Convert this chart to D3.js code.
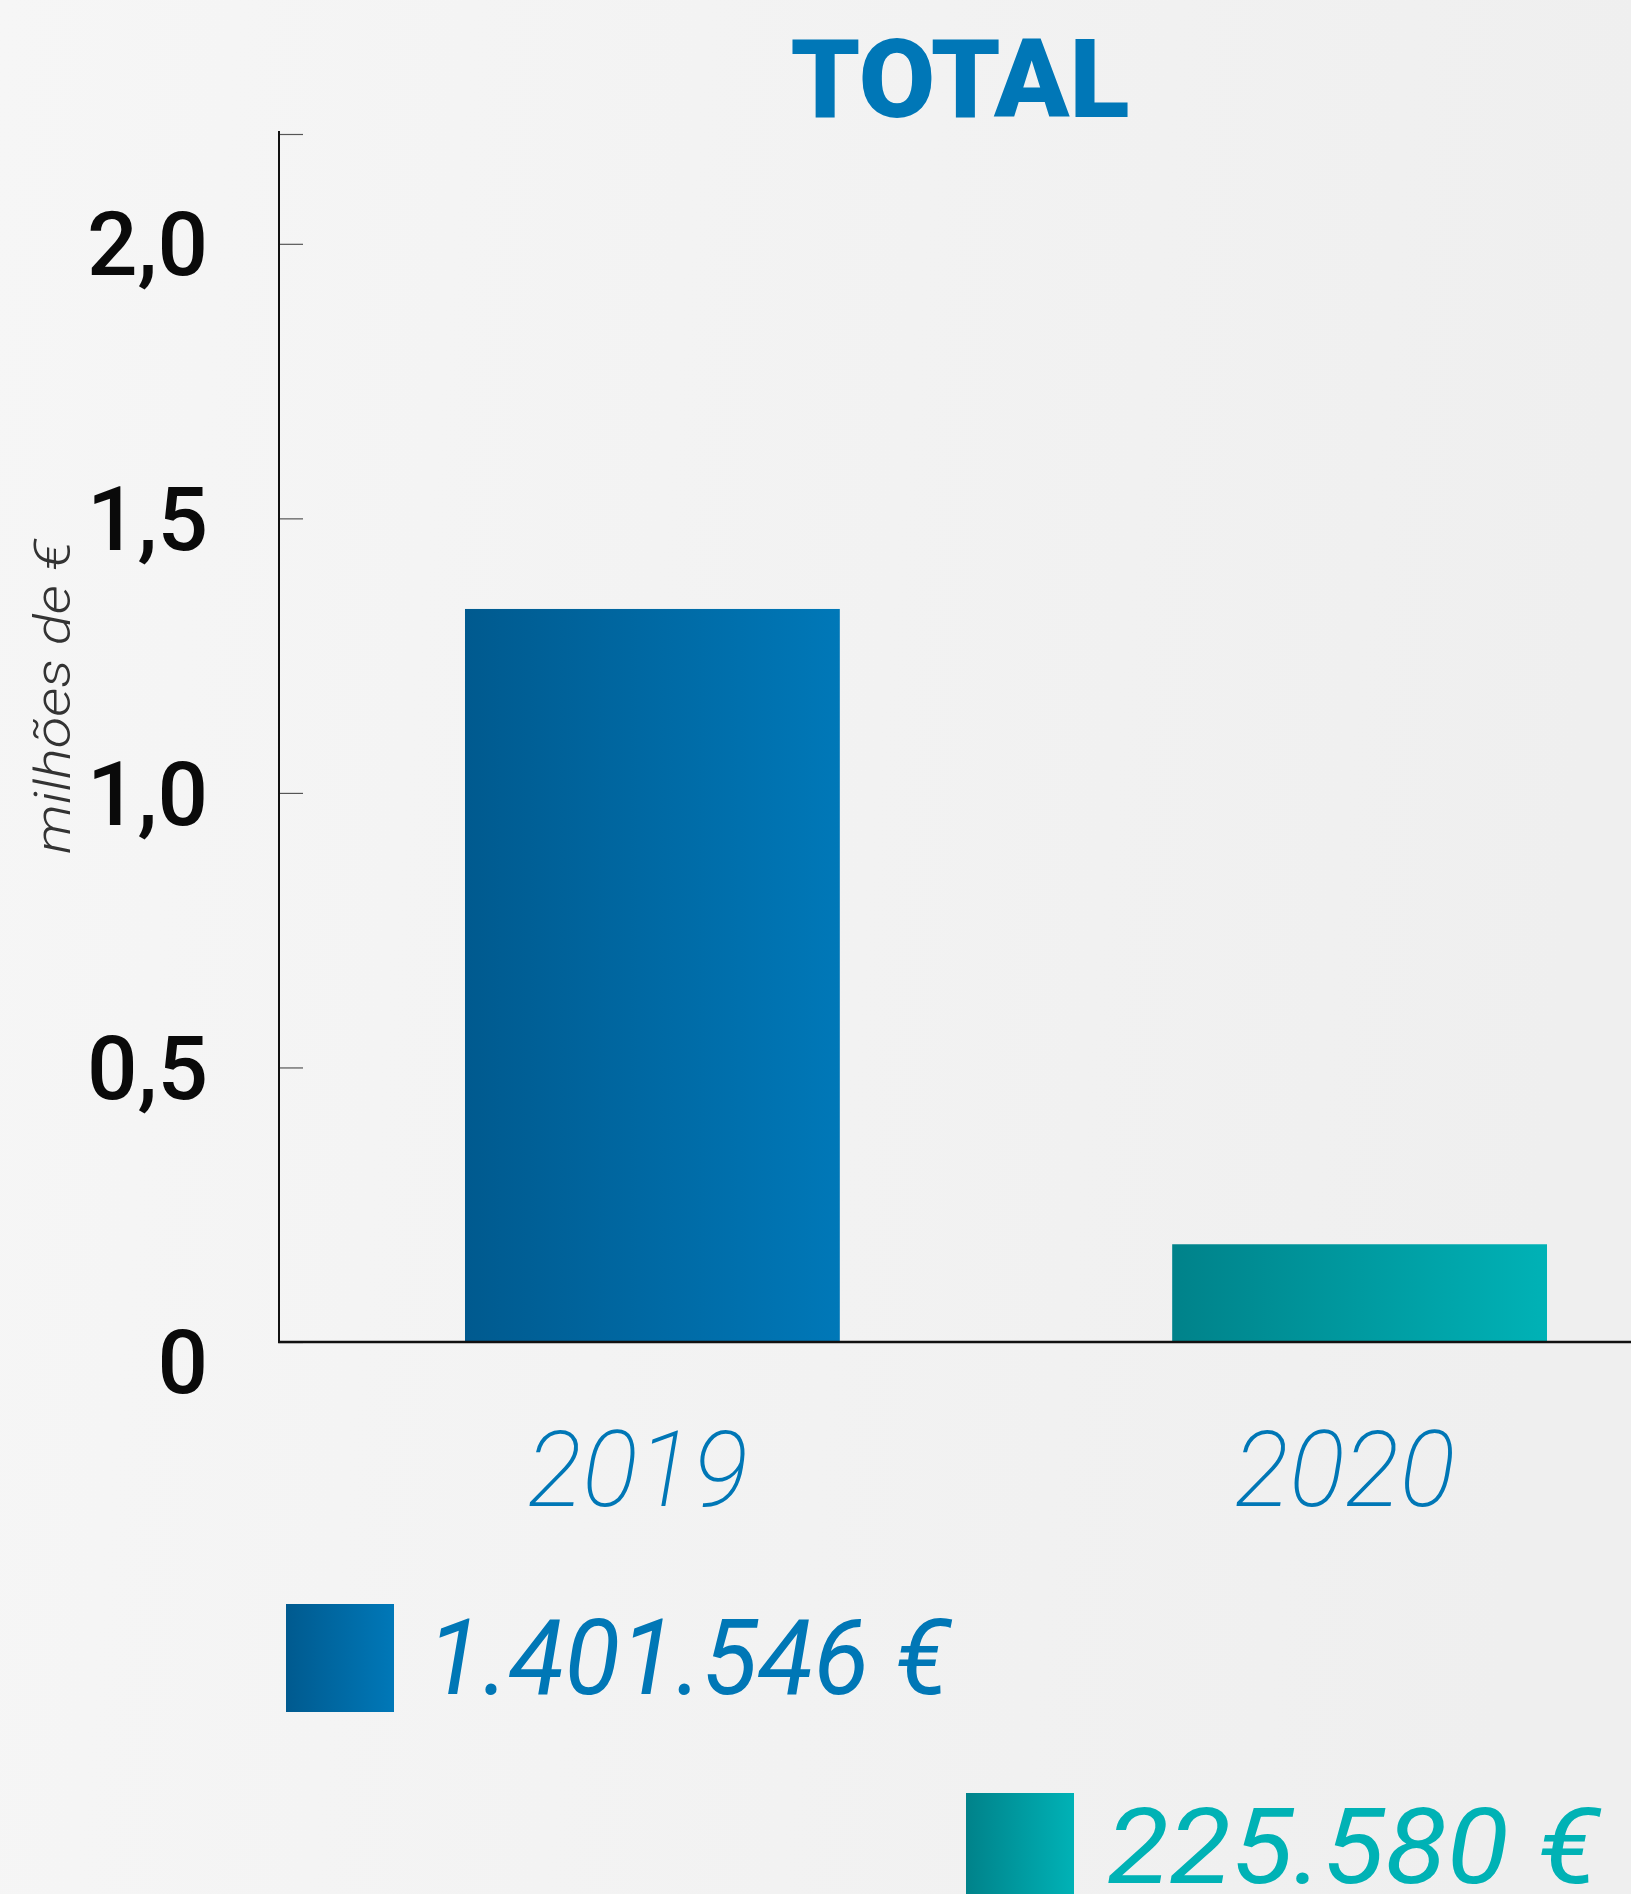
<!DOCTYPE html>
<html>
<head>
<meta charset="utf-8">
<script src="https://cdn.jsdelivr.net/npm/d3@7"></script>
<style>
body{margin:0;background:#f4f4f4;}
svg{display:block;}
</style>
</head>
<body>
<div id="chart-area"></div>
<script>
// DATA
let years=["2019","2020"];
let values=[1.335,0.178];          // milhões de €, as drawn
let valueLabels=["1.401.546 €","225.580 €"];
let tickValues=[0,0.5,1,1.5,2];
let tickLabels=["0","0,5","1,0","1,5","2,0"];

let width=1631, height=1894;
let x0=279, yBase=1342, yTop=134;

let svg=d3.select("#chart-area").append('svg')
	.attr('width',width)
	.attr('height',height);

let defs=svg.append('defs');

let bg=defs.append('linearGradient').attr('id','bg').attr('x1','0').attr('x2','1').attr('y1','0').attr('y2','0.1');
bg.append('stop').attr('offset','0').attr('stop-color','#f6f6f6');
bg.append('stop').attr('offset','1').attr('stop-color','#efefef');

let colors=[["#005a8f","#0078b8"],["#00828a","#00b2b6"]];
let textColors=["#0077b6","#00b2b5"];
colors.forEach(function(c,i){
	let gr=defs.append('linearGradient').attr('id','grad'+i).attr('x1','0').attr('x2','1').attr('y1','0').attr('y2','0');
	gr.append('stop').attr('offset','0').attr('stop-color',c[0]);
	gr.append('stop').attr('offset','1').attr('stop-color',c[1]);
});

svg.append('rect').attr('width',width).attr('height',height).attr('fill','url(#bg)');

//---------SCALES--------------
let x=d3.scaleBand()
	.domain(years)
	.range([x0,1733])
	.paddingInner(0.47)
	.paddingOuter(0.263);

let y=d3.scaleLinear()
	.domain([0,2.2])
	.range([yBase,yTop]);

//---------TITLE---------------
svg.append('text')
	.attr('x',960)
	.attr('y',117)
	.attr('text-anchor','middle')
	.attr('font-family','Roboto')
	.attr('font-weight',900)
	.attr('font-size','110px')
	.attr('fill','#0077b7')
	.attr('textLength',339)
	.attr('lengthAdjust','spacingAndGlyphs')
	.text('TOTAL');

//---------BARS----------------
svg.selectAll('rect.bar').data(values)
	.enter().append('rect')
	.attr('class','bar')
	.attr('x',(d,i)=>x(years[i]))
	.attr('width',x.bandwidth())
	.attr('y',d=>y(d))
	.attr('height',d=>yBase-y(d))
	.attr('fill',(d,i)=>'url(#grad'+i+')');

//---------AXES----------------
let yAxis=d3.axisRight(y)
	.tickValues(tickValues.concat([2.2]))
	.tickSize(24)
	.tickFormat('');

let yAxisGroup=svg.append('g')
	.attr('transform','translate('+x0+',0)')
	.call(yAxis);
yAxisGroup.select('.domain').remove();
yAxisGroup.selectAll('.tick line').attr('stroke','#555').attr('stroke-width',1.2);

svg.append('line')
	.attr('x1',x0).attr('x2',x0)
	.attr('y1',y(2.2)-3).attr('y2',yBase+1)
	.attr('stroke','#111').attr('stroke-width',2);

svg.append('line')
	.attr('x1',x0-1).attr('x2',width)
	.attr('y1',yBase).attr('y2',yBase)
	.attr('stroke','#111').attr('stroke-width',2.5);

svg.selectAll('text.ytick').data(tickValues)
	.enter().append('text')
	.attr('class','ytick')
	.attr('x',208)
	.attr('y',d=>y(d)+(d===0?19:0))
	.attr('dy','0.355em')
	.attr('text-anchor','end')
	.attr('font-family','Roboto')
	.attr('font-weight',500)
	.attr('font-size','89px')
	.attr('fill','#0a0a0a')
	.text((d,i)=>tickLabels[i]);

//------LABELS----------------
svg.append('text')
	.attr('transform','rotate(-90)')
	.attr('x',-697)
	.attr('y',70)
	.attr('text-anchor','middle')
	.attr('font-family','Roboto')
	.attr('font-weight',300)
	.attr('font-style','italic')
	.attr('font-size','50px')
	.attr('fill','#333')
	.attr('textLength',314)
	.attr('lengthAdjust','spacingAndGlyphs')
	.text('milhões de €');

svg.selectAll('text.year').data(years)
	.enter().append('text')
	.attr('class','year')
	.attr('x',d=>x(d)+x.bandwidth()/2-15)
	.attr('y',1506)
	.attr('text-anchor','middle')
	.attr('font-family','Roboto')
	.attr('font-weight',200)
	.attr('font-style','italic')
	.attr('font-size','105px')
	.attr('fill','#0077b6')
	.attr('textLength',221)
	.attr('lengthAdjust','spacingAndGlyphs')
	.text(d=>d);

//--------LEGEND--------------
let legendWidths=[523,492];
years.forEach(function(yr,i){
	let row=svg.append('g')
		.attr('transform','translate('+(286+i*680)+','+(1604+i*189)+')');
	row.append('rect')
		.attr('width',108)
		.attr('height',108)
		.attr('fill','url(#grad'+i+')');
	row.append('text')
		.attr('x',141)
		.attr('y',90)
		.attr('font-family','Roboto')
		.attr('font-weight',400)
		.attr('font-style','italic')
		.attr('font-size','106px')
		.attr('fill',textColors[i])
		.attr('textLength',legendWidths[i])
		.attr('lengthAdjust','spacingAndGlyphs')
		.text(valueLabels[i]);
});
</script>
</body>
</html>
